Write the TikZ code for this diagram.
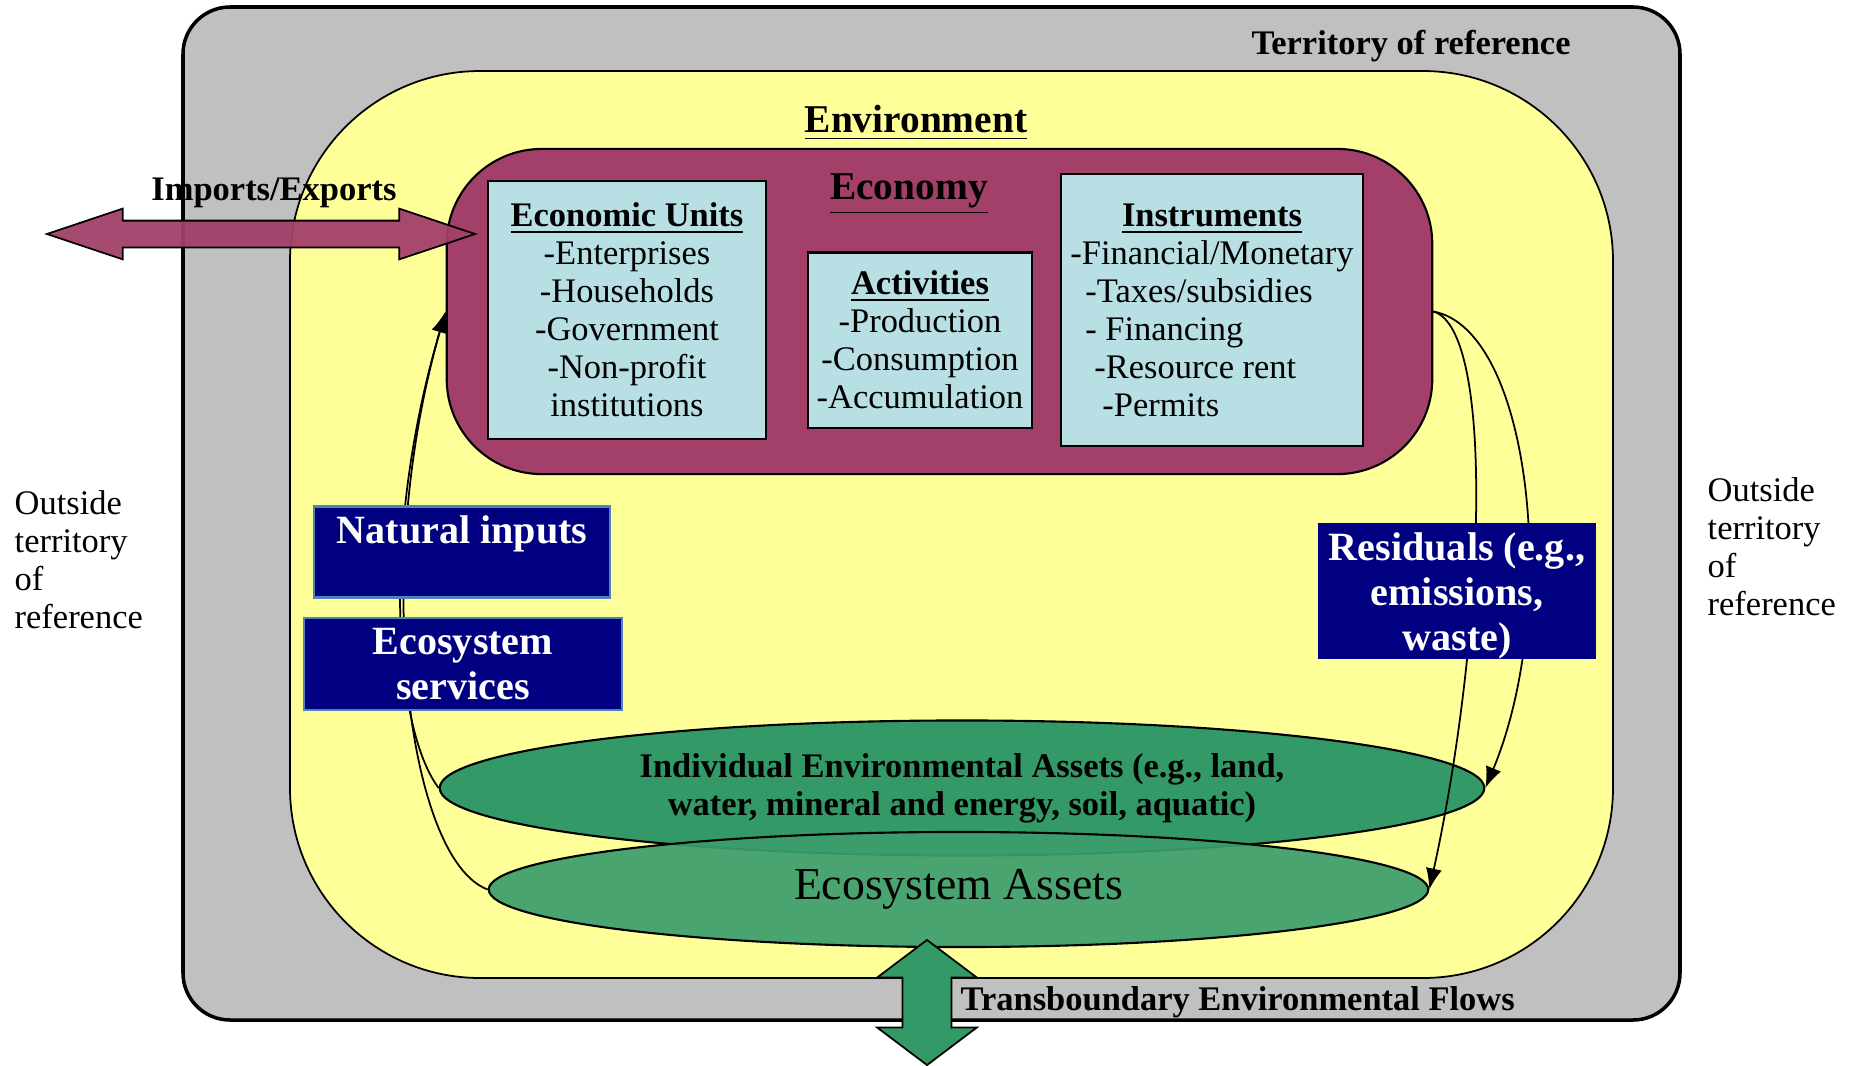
\documentclass[tikz,border=0pt]{standalone}
\usepackage{fontspec}
\setmainfont{Liberation Serif}
\usetikzlibrary{shapes.geometric,shapes.arrows,arrows.meta}
\definecolor{terrgray}{RGB}{192,192,192}
\definecolor{envyellow}{RGB}{255,255,153}
\definecolor{econmaroon}{RGB}{162,64,106}
\definecolor{boxcyan}{RGB}{184,223,228}
\definecolor{flownavy}{RGB}{0,0,128}
\definecolor{navyedge}{RGB}{79,129,189}
\definecolor{assetgreen}{RGB}{51,153,102}
\definecolor{ecogreen}{RGB}{60,158,108}

\begin{document}
\begin{tikzpicture}[x=0.01cm,y=-0.01cm,>={Latex[length=6pt,width=4.6pt]},
        unitbox/.style={draw=black,line width=0.6pt,fill=boxcyan,inner sep=0pt,align=center,
            font=\fontsize{9.8}{10.8}\selectfont},
        navybox/.style={fill=flownavy,inner sep=0pt,text=white,align=center,
            font=\fontsize{11.4}{12.8}\selectfont\bfseries},
        asset/.style={ellipse,draw=black,line width=0.6pt,inner sep=0pt,align=center},
        flow/.style={->,line width=0.5pt},
        plain/.style={inner sep=0pt,font=\fontsize{9.8}{10.8}\selectfont}]
            \useasboundingbox (0,0) rectangle (1853,1066);

            % territory and environment
            \draw[fill=terrgray,line width=1pt,rounded corners=0.47cm] (183,7) rectangle (1680,1020);
            \draw[fill=envyellow,line width=0.5pt,rounded corners=1.9cm] (290,71) rectangle (1613,978);

            % the economy
            \node[draw=black,line width=0.6pt,fill=econmaroon,rounded corners=0.95cm,
                minimum width=9.85cm,minimum height=3.25cm] (econ) at (939.5,311.5) {};
            \node[unitbox,minimum width=2.78cm,minimum height=2.57cm] (units) at (627,310)
                {\underline{\textbf{Economic Units}}\\-Enterprises\\-Households\\-Government\\-Non-profit\\institutions};
            \node[unitbox,minimum width=2.24cm,minimum height=1.75cm] (activ) at (920,340)
                {\underline{\textbf{Activities}}\\-Production\\-Consumption\\-Accumulation};
            \node[unitbox,minimum width=3.02cm,minimum height=2.72cm] (instr) at (1212,310)
                {\begin{tabular}{@{}l@{}}
                \multicolumn{1}{@{}c@{}}{\rule{0pt}{9.8pt}\underline{\textbf{Instruments}}}\\
                -Financial/Monetary\\
                \hspace{0.15cm}-Taxes/subsidies\\
                \hspace{0.15cm}- Financing\\
                \hspace{0.24cm}-Resource rent\\
                \hspace{0.32cm}-Permits
                \end{tabular}};

            % assets
            \node[asset,fill=assetgreen,minimum width=10.44cm,minimum height=1.35cm,
                font=\fontsize{9.8}{10.8}\selectfont\bfseries] (indiv) at (962,788)
                {Individual Environmental Assets (e.g., land,\\water, mineral and energy, soil, aquatic)};
            \node[asset,fill=ecogreen,fill opacity=0.93,text opacity=1,minimum width=9.39cm,minimum height=1.15cm,
                font=\fontsize{13}{14}\selectfont] (ecoas) at (958.5,889.5) {Ecosystem Assets};

            % flows into and out of the economy
            \draw[flow] (indiv.west) .. controls +(-45,-60) and +(-65,220) .. (econ.west);
            \draw[flow] (ecoas.west) .. controls +(-80,-30) and +(-75,260) .. (econ.west);
            \draw[flow] (econ.east) .. controls +(98,18) and +(75,-180) .. (indiv.east);
            \draw[flow] (econ.east) .. controls +(63,18) and +(55,-250) .. (ecoas.east);

            % flow boxes
            \node[navybox,draw=navyedge,line width=0.7pt,minimum width=2.96cm,minimum height=0.91cm] (natin) at (462,552)
                {Natural inputs\\[-4pt]\strut};
            \node[navybox,draw=navyedge,line width=0.7pt,minimum width=3.18cm,minimum height=0.92cm] (esserv) at (463,664)
                {Ecosystem\\services};
            \node[navybox,minimum width=2.78cm,minimum height=1.35cm] (resid) at (1457,591)
                {\rule{0pt}{10.8pt}Residuals (e.g.,\\emissions,\\waste)};

            % the two double arrows
            \node[double arrow,draw=black,line width=0.5pt,fill=econmaroon,fill opacity=0.95,
                inner xsep=0pt,inner ysep=0.125cm,minimum height=4.28cm,minimum width=0.49cm,
                double arrow head extend=0.12cm,double arrow tip angle=37] (trade) at (261,234) {};
            \node[double arrow,rotate=90,draw=black,line width=0.5pt,fill=assetgreen,
                inner xsep=0pt,inner ysep=0.235cm,minimum height=1.25cm,minimum width=0.98cm,
                double arrow head extend=0.255cm,double arrow tip angle=106] (transb) at (927,1002.5) {};

            % text
            \node[plain,font=\fontsize{9.8}{10.8}\selectfont\bfseries] (terr) at (1411,46) {Territory of reference};
            \node[plain,font=\fontsize{11.2}{13}\selectfont\bfseries] (envlab) at (916,123) {\underline{Environment}};
            \node[plain,font=\fontsize{11.2}{13}\selectfont\bfseries] (econlab) at (909,194) {\underline{Economy}};
            \node[plain,font=\fontsize{9.8}{10.8}\selectfont\bfseries] (tradelab) at (274,193) {Imports/Exports};
            \node[plain,anchor=west,font=\fontsize{9.8}{10.8}\selectfont\bfseries] (transblab) at (960,1002)
                {Transboundary Environmental Flows};
            \node[plain,anchor=west,align=left] (outleft) at (14,560) {Outside\\territory\\of\\reference};
            \node[plain,anchor=west,align=left] (outright) at (1707,547) {Outside\\territory\\of\\reference};
\end{tikzpicture}
\end{document}
